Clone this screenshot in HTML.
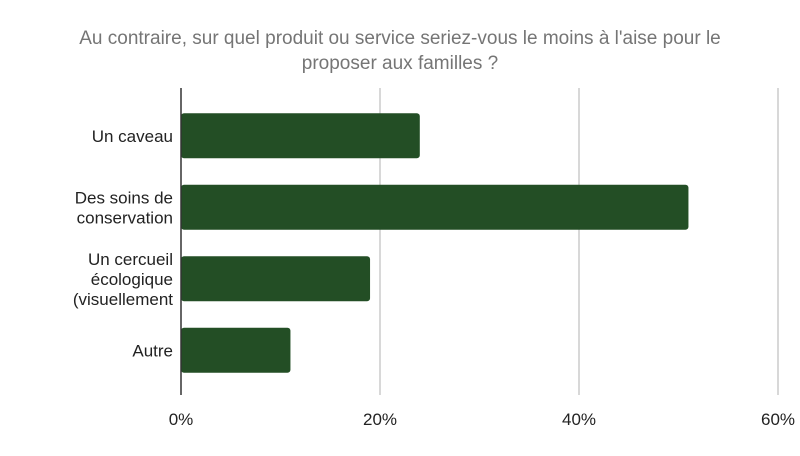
<!DOCTYPE html>
<html><head><meta charset="utf-8"><style>
body{margin:0;background:#fff;width:800px;height:451px;overflow:hidden;font-family:"Liberation Sans",Arial,sans-serif}
</style></head><body>
<svg width="800" height="451" xmlns="http://www.w3.org/2000/svg">
<rect width="800" height="451" fill="#fff"/>
<text x="400" y="44" text-anchor="middle" font-size="19" fill="#757575">Au contraire, sur quel produit ou service seriez-vous le moins à l'aise pour le</text>
<text x="400" y="69" text-anchor="middle" font-size="19" fill="#757575">proposer aux familles ?</text>
<g id="grid"></g><g id="bars"></g><g id="labels"></g>
<line x1="181" y1="88" x2="181" y2="395" stroke="#333" stroke-width="1.5"/>
</svg>
<script>
const categories=[["Un caveau"],["Des soins de","conservation"],["Un cercueil","écologique","(visuellement"],["Autre"]];
const values=[24,51,19,11];
const ticks=[0,20,40,60];
const tickLabels=["0%","20%","40%","60%"];
const NS="http://www.w3.org/2000/svg";
const x0=181,x1=778,xMax=60,yTop=100,band=71.5,barH=45;
const xs=v=>x0+(x1-x0)*v/xMax;
const g=document.getElementById('grid'),b=document.getElementById('bars'),l=document.getElementById('labels');
ticks.forEach((t,i)=>{
 if(t>0){const ln=document.createElementNS(NS,'line');
 
 
 ln.setAttribute('x1',xs(t));ln.setAttribute('x2',xs(t));ln.setAttribute('y1',88);ln.setAttribute('y2',395);
 ln.setAttribute('stroke','#ccc');ln.setAttribute('stroke-width','1.5');g.appendChild(ln);}
 const tx=document.createElementNS(NS,'text');
 
 
 tx.setAttribute('x',xs(t));tx.setAttribute('y',425);tx.setAttribute('text-anchor','middle');
 tx.setAttribute('font-size','17');tx.setAttribute('fill','#222');tx.textContent=tickLabels[i];l.appendChild(tx);
});
values.forEach((v,i)=>{
 const cy=yTop+band*i+band/2;
 const r=document.createElementNS(NS,'rect');
 
 
 r.setAttribute('x',x0);r.setAttribute('y',cy-barH/2);r.setAttribute('width',xs(v)-x0);r.setAttribute('height',barH);
 r.setAttribute('rx','3');r.setAttribute('fill','#234e25');b.appendChild(r);
 const lines=categories[i];
 lines.forEach((s,j)=>{
  const tx=document.createElementNS(NS,'text');
  
  
  tx.setAttribute('x',173);tx.setAttribute('y',cy+6+(j-(lines.length-1)/2)*20);
  tx.setAttribute('text-anchor','end');tx.setAttribute('font-size','17');tx.setAttribute('fill','#222');
  tx.textContent=s;l.appendChild(tx);
 });
});
</script>
</body></html>
